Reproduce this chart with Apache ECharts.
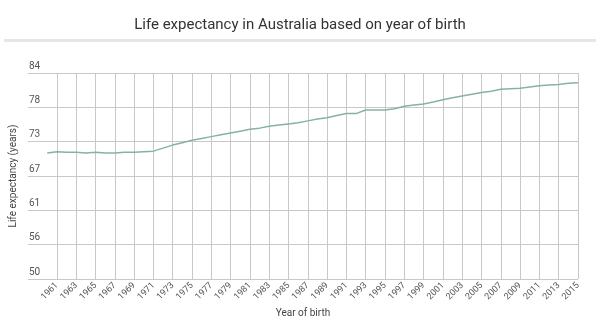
<!DOCTYPE html>
<html>
<head>
<meta charset="utf-8">
<script src="https://cdn.jsdelivr.net/npm/echarts@6/dist/echarts.min.js"></script>
<style>html,body{margin:0;padding:0;background:#fff;}#c{width:600px;height:329px;}</style>
</head>
<body>
<div id="c"></div>
<script>
const years = [1960,1961,1962,1963,1964,1965,1966,1967,1968,1969,1970,1971,1972,1973,1974,1975,1976,1977,1978,1979,1980,1981,1982,1983,1984,1985,1986,1987,1988,1989,1990,1991,1992,1993,1994,1995,1996,1997,1998,1999,2000,2001,2002,2003,2004,2005,2006,2007,2008,2009,2010,2011,2012,2013,2014,2015];
const lifeExpectancy = [70.8,71.0,70.9,70.9,70.8,70.9,70.8,70.8,70.9,70.9,71.0,71.1,71.6,72.1,72.5,72.9,73.2,73.5,73.8,74.1,74.4,74.7,74.9,75.2,75.4,75.6,75.8,76.1,76.4,76.6,77.0,77.3,77.3,77.9,77.9,77.9,78.1,78.5,78.7,78.9,79.2,79.6,79.9,80.2,80.5,80.8,81.0,81.3,81.4,81.5,81.7,81.9,82.0,82.1,82.3,82.4];
const leadingPadYears = [1958,1959];
const tickYears = [1961,1963,1965,1967,1969,1971,1973,1975,1977,1979,1981,1983,1985,1987,1989,1991,1993,1995,1997,1999,2001,2003,2005,2007,2009,2011,2013,2015];
const yTickLabels = [50,56,61,67,73,78,84];

const categories = leadingPadYears.concat(years).map(String);
const valueByYear = {};
years.forEach((y, i) => { valueByYear[String(y)] = lifeExpectancy[i]; });
const seriesData = categories.map(c => (c in valueByYear ? valueByYear[c] : '-'));
const tickSet = new Set(tickYears.map(String));
const showTick = (idx, val) => tickSet.has(String(val));

const chart = echarts.init(document.getElementById('c'), null, {renderer:'canvas'});
const yMin = yTickLabels[0], yMax = yTickLabels[yTickLabels.length-1];
const yInterval = (yMax - yMin) / (yTickLabels.length - 1);
chart.setOption({
  animation: false,
  textStyle: {fontFamily: 'Roboto'},
  title: {
    text: 'Life expectancy in Australia based on year of birth',
    left: 'center', top: 13,
    textStyle: {fontSize: 15, fontWeight: 'normal', color: '#333', fontFamily: 'Roboto'}
  },
  graphic: [{
    type: 'rect', shape: {x: 4, y: 39, width: 592, height: 3},
    style: {fill: '#e6e6e6'}, silent: true
  }],
  grid: {left: 21, right: 22, top: 73, bottom: 50, containLabel: false},
  xAxis: {
    type: 'category', data: categories, boundaryGap: false,
    name: 'Year of birth', nameLocation: 'middle', nameGap: 29,
    nameTextStyle: {fontSize: 10, color: '#444'},
    axisLine: {show: false},
    axisTick: {show: false, interval: showTick},
    axisLabel: {interval: showTick, rotate: 45, fontSize: 9, color: '#555', margin: 5},
    splitLine: {show: true, interval: showTick, lineStyle: {color: '#c8c8c8', width: 1}}
  },
  yAxis: {
    type: 'value', min: yMin, max: yMax, interval: yInterval,
    name: 'Life expectancy (years)', nameLocation: 'middle', nameGap: 6,
    nameTextStyle: {fontSize: 10, color: '#444'},
    axisLine: {show: false}, axisTick: {show: false},
    axisLabel: {inside: true, margin: 1, verticalAlign: 'bottom', padding: [0,0,2,0],
      fontSize: 10, color: '#555', formatter: v => String(Math.round(v))},
    splitLine: {show: true, lineStyle: {color: '#c8c8c8', width: 1}}
  },
  series: [{
    type: 'line', showSymbol: false, smooth: false, connectNulls: false,
    data: seriesData,
    lineStyle: {color: '#84b59c', width: 1.5},
    itemStyle: {color: '#84b59c'}
  }]
});
</script>
</body>
</html>
